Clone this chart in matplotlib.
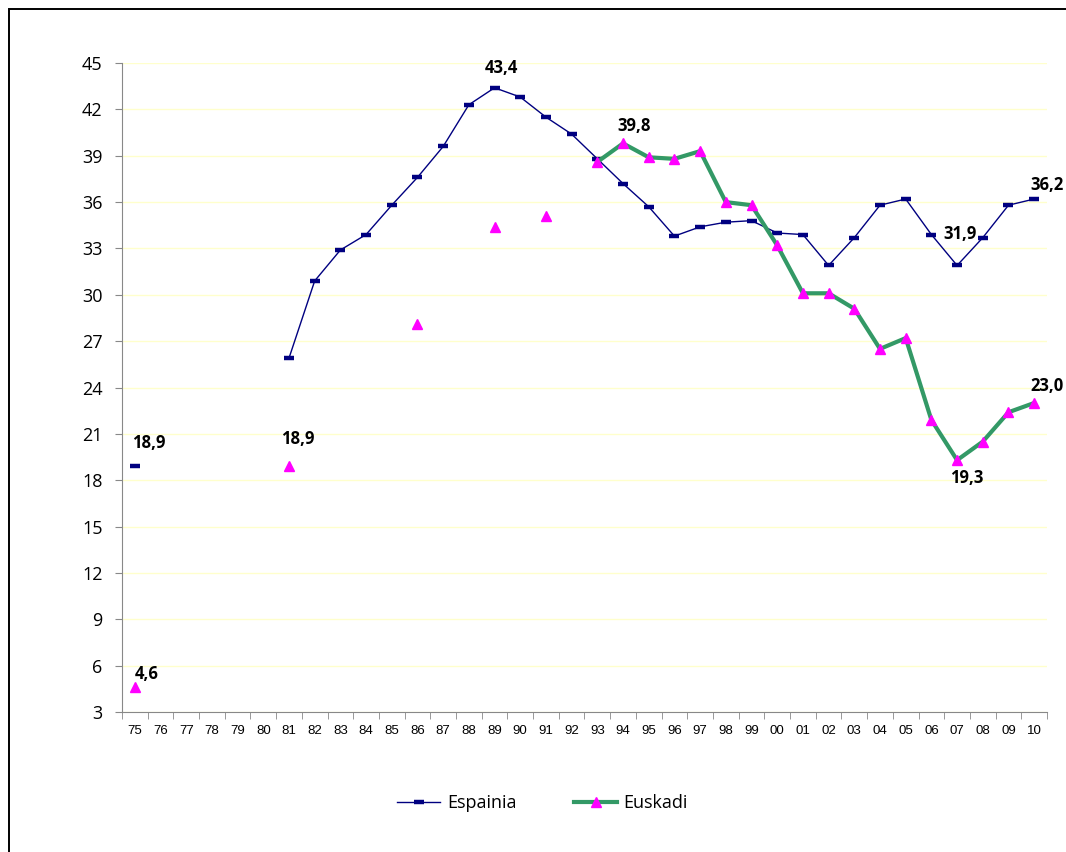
import matplotlib.pyplot as plt
import numpy as np
from matplotlib.patches import Rectangle

# years shown on the category axis
years = ['75', '76', '77', '78', '79', '80', '81', '82', '83', '84', '85', '86',
         '87', '88', '89', '90', '91', '92', '93', '94', '95', '96', '97', '98',
         '99', '00', '01', '02', '03', '04', '05', '06', '07', '08', '09', '10']

nan = np.nan
espainia = [18.9, nan, nan, nan, nan, nan, 25.9, 30.9, 32.9, 33.9, 35.8, 37.6,
            39.6, 42.3, 43.4, 42.8, 41.5, 40.4, 38.8, 37.2, 35.7, 33.8, 34.4, 34.7,
            34.8, 34.0, 33.9, 31.9, 33.7, 35.8, 36.2, 33.9, 31.9, 33.7, 35.8, 36.2]
euskadi = [4.6, nan, nan, nan, nan, nan, 18.9, nan, nan, nan, nan, 28.1,
           nan, nan, 34.4, nan, 35.1, nan, 38.6, 39.8, 38.9, 38.8, 39.3, 36.0,
           35.8, 33.2, 30.1, 30.1, 29.1, 26.5, 27.2, 21.9, 19.3, 20.5, 22.4, 23.0]

# value labels: year, offset in points, alignment
esp_labels = [('75', (-2, 10), 'left'), ('89', (5, 8), 'center'),
              ('07', (2, 16.5), 'center'), ('10', (9, 3.5), 'center')]
eus_labels = [('75', (0, 3), 'left'), ('81', (6, 13.5), 'center'), ('94', (8, 5.7), 'center'),
              ('07', (7, -19), 'center'), ('10', (9, 5.7), 'center')]

x = np.arange(len(years))

fig = plt.figure(figsize=(10.66, 8.52), dpi=100)
ax = fig.add_axes([0.1144, 0.1643, 0.8678, 0.7617])

ax.plot(x, espainia, color='#000080', lw=1.0, marker='_', ms=7, mew=3.2,
        label='Espainia', zorder=3)
ax.plot(x, euskadi, color='#339966', lw=3.0, marker='^', ms=7.5,
        mfc='#FF00FF', mec='#FF00FF', label='Euskadi', zorder=4)

# data labels
for yr, off, ha in esp_labels:
    i = years.index(yr)
    ax.annotate(f'{espainia[i]:.1f}'.replace('.', ','), (x[i], espainia[i]),
                xytext=off, textcoords='offset points', ha=ha, va='bottom',
                fontsize=12, fontweight='bold', family='Open Sans')
for yr, off, ha in eus_labels:
    i = years.index(yr)
    ax.annotate(f'{euskadi[i]:.1f}'.replace('.', ','), (x[i], euskadi[i]),
                xytext=off, textcoords='offset points', ha=ha, va='bottom',
                fontsize=12, fontweight='bold', family='Open Sans')

ax.set_xlim(-0.5, len(years) - 0.5)
ax.set_ylim(3, 45)
ax.set_yticks(np.arange(3, 46, 3))
ax.set_yticklabels([str(v) for v in range(3, 46, 3)], fontsize=13, family='Open Sans')
ax.yaxis.grid(True, color='#FFFFCC', lw=1)
ax.set_axisbelow(True)

# category labels centred, ticks between categories
ax.set_xticks(x)
ax.set_xticklabels(years, fontsize=9.5, family='Liberation Sans')
ax.set_xticks(np.arange(-0.5, len(years), 1), minor=True)
ax.tick_params(axis='x', which='major', length=0, pad=9)
ax.tick_params(axis='x', which='minor', length=5, color='#888888')
ax.tick_params(axis='y', length=5, color='#888888', pad=9)

for s in ['top', 'right']:
    ax.spines[s].set_visible(False)
for s in ['left', 'bottom']:
    ax.spines[s].set_color('#888888')

fig.legend(loc='center', bbox_to_anchor=(0.509, 0.0575), ncol=2, frameon=False,
           handlelength=2.4, handletextpad=0.35, columnspacing=3.2,
           prop={'family': 'Open Sans', 'size': 13})

# chart area border
fig.patches.append(Rectangle((9 / 1066, -0.01), 1.1, 0.9997 - 9 / 852 + 0.01,
                             transform=fig.transFigure, fill=False,
                             ec='black', lw=1.4))

fig.savefig('out.png', dpi=100)
